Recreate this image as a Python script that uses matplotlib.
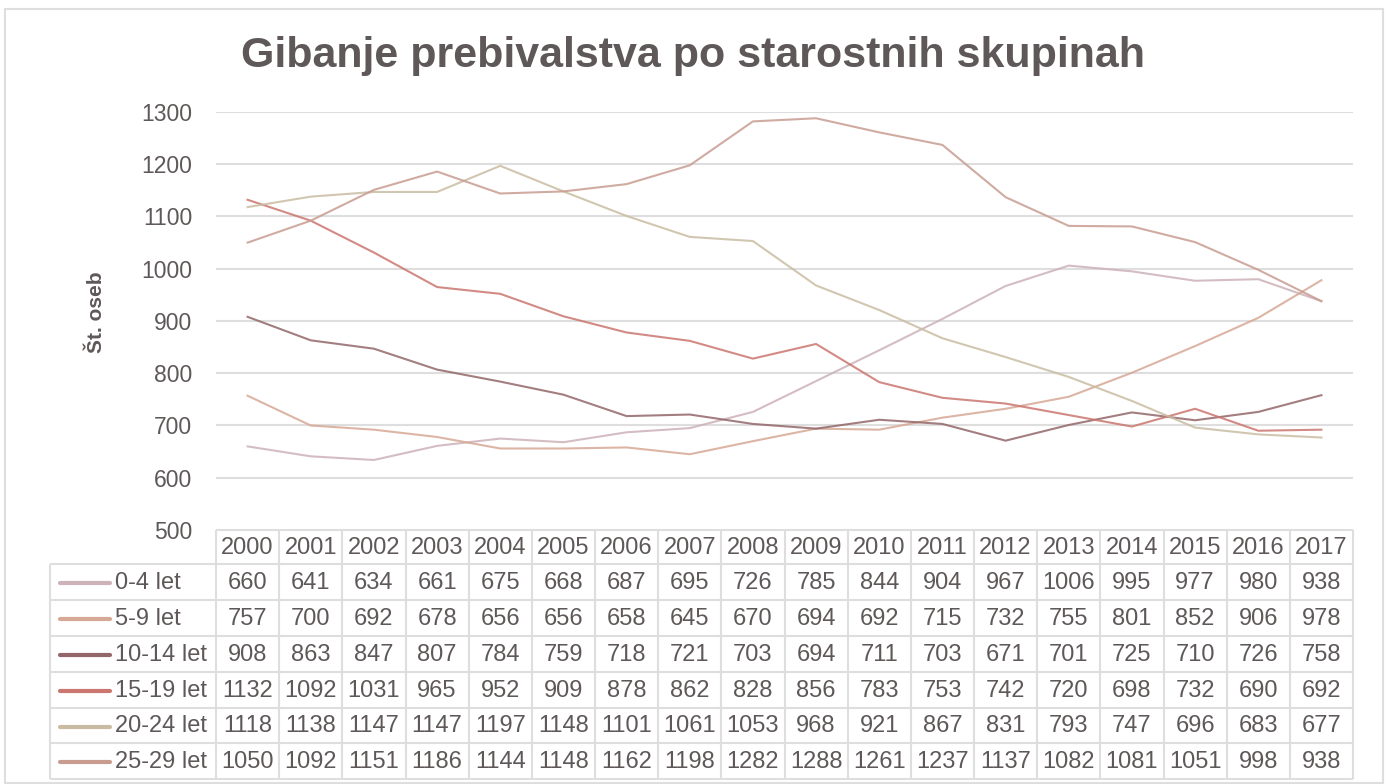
import matplotlib
matplotlib.use('Agg')
import matplotlib.pyplot as plt
from matplotlib.patches import Rectangle

matplotlib.rc('font', family=['Liberation Sans', 'DejaVu Sans'])

years = list(range(2000, 2018))
groups = ['0-4 let', '5-9 let', '10-14 let', '15-19 let', '20-24 let', '25-29 let']
s0_4 = [660, 641, 634, 661, 675, 668, 687, 695, 726, 785, 844, 904, 967, 1006, 995, 977, 980, 938]
s5_9 = [757, 700, 692, 678, 656, 656, 658, 645, 670, 694, 692, 715, 732, 755, 801, 852, 906, 978]
s10_14 = [908, 863, 847, 807, 784, 759, 718, 721, 703, 694, 711, 703, 671, 701, 725, 710, 726, 758]
s15_19 = [1132, 1092, 1031, 965, 952, 909, 878, 862, 828, 856, 783, 753, 742, 720, 698, 732, 690, 692]
s20_24 = [1118, 1138, 1147, 1147, 1197, 1148, 1101, 1061, 1053, 968, 921, 867, 831, 793, 747, 696, 683, 677]
s25_29 = [1050, 1092, 1151, 1186, 1144, 1148, 1162, 1198, 1282, 1288, 1261, 1237, 1137, 1082, 1081, 1051, 998, 938]
series = [s0_4, s5_9, s10_14, s15_19, s20_24, s25_29]
colors = ['#cdb2b8', '#d6a896', '#93676a', '#cb766f', '#c9bca3', '#c89c91']

W, H = 1389, 784
TXT = '#5e5958'
GRID = '#dedede'

fig = plt.figure(figsize=(W / 100, H / 100), dpi=100)

# outer frame
fig.add_artist(Rectangle((5 / W, 1 - 783 / H), 1378 / W, 774 / H,
                         transform=fig.transFigure, fill=False,
                         ec=GRID, lw=1.5))

# plot area
x0, x1, y_top, y_bot = 216, 1353, 112, 530
ax = fig.add_axes([x0 / W, 1 - y_bot / H, (x1 - x0) / W, (y_bot - y_top) / H])
xs = list(range(len(years)))
for vals, cl, lab in zip(series, colors, groups):
    ax.plot(xs, vals, '-', color=cl, lw=1.5, alpha=0.85, label=lab)
ax.set_xlim(-0.5, len(years) - 0.5)
ax.set_ylim(500, 1300)
ax.set_yticks(range(500, 1301, 100))
ax.set_xticks([])
ax.grid(axis='y', color=GRID, lw=1.5)
ax.set_axisbelow(True)
for sp in ax.spines.values():
    sp.set_visible(False)
ax.tick_params(axis='y', length=0, pad=17, labelsize=16.5, labelcolor=TXT)

fig.text(693 / W, 1 - 56 / H, 'Gibanje prebivalstva po starostnih skupinah',
         ha='center', va='center', fontsize=31, fontweight='bold', color=TXT)
fig.text(97 / W, 1 - 312 / H, 'Št. oseb', rotation=90, ha='center', va='center',
         fontsize=15, fontweight='bold', color=TXT)

# data table below the plot
tab = fig.add_axes([0, 0, 1, 1], zorder=-1)
tab.set_xlim(0, W)
tab.set_ylim(H, 0)
tab.axis('off')

cw = (x1 - x0) / len(years)
row_y = [530, 564, 600, 636, 672, 708, 743, 779]
lab_x = 50
fs = 17

# header row (years)
tab.hlines(row_y[0], x0, x1, color=GRID, lw=1.5)
for i, yr in enumerate(years):
    tab.text(x0 + (i + 0.5) * cw, (row_y[0] + row_y[1]) / 2 + 1, str(yr),
             ha='center', va='center', fontsize=fs, color=TXT)
for y in row_y[1:]:
    tab.hlines(y, lab_x, x1, color=GRID, lw=1.5)
for i in range(len(years) + 1):
    tab.vlines(x0 + i * cw, row_y[0], row_y[-1], color=GRID, lw=1.5)
tab.vlines(lab_x, row_y[1], row_y[-1], color=GRID, lw=1.5)

for r, (vals, cl, lab) in enumerate(zip(series, colors, groups)):
    yc = (row_y[r + 1] + row_y[r + 2]) / 2 + 1
    tab.plot([60, 110], [yc, yc], '-', color=cl, lw=3, solid_capstyle='round')
    tab.text(115, yc, lab, ha='left', va='center', fontsize=fs, color=TXT)
    for i, v in enumerate(vals):
        tab.text(x0 + (i + 0.5) * cw, yc, str(v), ha='center', va='center',
                 fontsize=fs, color=TXT)

fig.savefig('out.png', dpi=100)
